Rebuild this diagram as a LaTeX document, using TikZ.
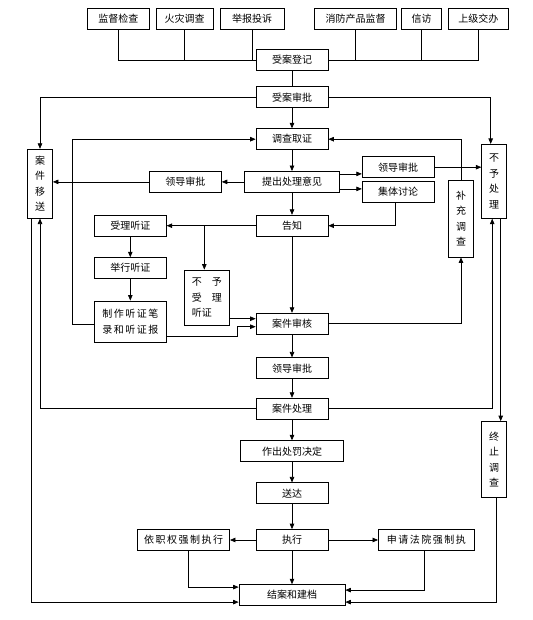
\documentclass[tikz,border=0pt]{standalone}
\usepackage{fontspec}
\newfontfamily\cjk{Noto Sans CJK SC}
\newfontfamily\cjkwide[LetterSpace=15]{Noto Sans CJK SC}
\usetikzlibrary{arrows.meta}
\begin{document}
\begin{tikzpicture}[x=1pt,y=-1pt,line width=0.7pt,>={Triangle[length=5.5pt,width=4.5pt]},
  main node/.style={draw,fill=white,inner sep=0pt,minimum width=72,minimum height=21,font=\cjk\fontsize{10}{15.5}\selectfont},
  tall node/.style={main node,align=center,minimum width=25}]
  \useasboundingbox (0,0) rectangle (532,620);

  \node[main node,minimum width=62] (0) at (118.3,18.8) {监督检查};
  \node[main node,minimum width=57] (1) at (184.7,18.8) {火灾调查};
  \node[main node,minimum width=64] (2) at (252,18.8) {举报投诉};
  \node[main node,minimum width=82] (3) at (355.5,18.8) {消防产品监督};
  \node[main node,minimum width=40] (4) at (421.7,18.8) {信访};
  \node[main node,minimum width=60] (5) at (478.3,18.8) {上级交办};
  \node[main node] (6) at (292,60) {受案登记};
  \node[main node] (7) at (292,97.2) {受案审批};
  \node[main node] (8) at (292,139.2) {调查取证};
  \node[tall node,minimum height=69] (9) at (40,183.7) {案\\件\\移\\送};
  \node[tall node,minimum height=74] (10) at (494.2,181.3) {不\\予\\处\\理};
  \node[main node,minimum width=95] (11) at (292,181.9) {提出处理意见};
  \node[main node] (12) at (185.4,181.9) {领导审批};
  \node[main node] (13) at (398.2,167.2) {领导审批};
  \node[main node] (14) at (398.2,192.1) {集体讨论};
  \node[tall node,minimum height=77] (15) at (461,218.5) {补\\充\\调\\查};
  \node[main node] (16) at (292,225.7) {告知};
  \node[main node] (17) at (130.3,225.7) {受理听证};
  \node[main node,align=left,minimum width=45,minimum height=55.7] (18) at (206.8,297.8) {不　予\\受　理\\听证};
  \node[main node] (19) at (130.3,268.1) {举行听证};
  \node[main node,align=center,minimum height=41.4,font=\cjkwide\fontsize{10}{16}\selectfont] (20) at (130.3,321.6) {制作听证笔\\录和听证报};
  \node[main node] (21) at (292,323.7) {案件审核};
  \node[main node] (22) at (292,368.3) {领导审批};
  \node[main node] (23) at (292,408.7) {案件处理};
  \node[tall node,minimum height=76] (24) at (494.2,459.5) {终\\止\\调\\查};
  \node[main node,minimum width=103] (25) at (292,451.2) {作出处罚决定};
  \node[main node] (26) at (292,493.3) {送达};
  \node[main node] (27) at (292,540) {执行};
  \node[main node,minimum width=92,font=\cjkwide\fontsize{10}{15.5}\selectfont] (28) at (183.6,540) {依职权强制执行};
  \node[main node,minimum width=96,font=\cjkwide\fontsize{10}{15.5}\selectfont] (29) at (426.4,540) {申请法院强制执};
  \node[main node,minimum width=106] (30) at (292,595.1) {结案和建档};

  \draw (0) |- (6);
  \draw (5) |- (6);
  \draw (1) -- (1 |- 6);
  \draw (2) -- (2 |- 6);
  \draw (3) -- (3 |- 6);
  \draw (4) -- (4 |- 6);
  \path (6) edge (7);

  \path[->]
    (7) edge (8)
    (8) edge (11)
    (11) edge (12)
    (11) edge (16)
    (16) edge (17)
    (16) edge (21)
    (17) edge (19)
    (19) edge (20)
    (21) edge (22)
    (22) edge (23)
    (23) edge (25)
    (25) edge (26)
    (26) edge (27)
    (27) edge (28)
    (27) edge (29)
    (27) edge (30);

  \draw[->] (7) -| (9);
  \draw[->] (7) -| ([xshift=-3.5pt]10.north);
  \draw[->] (12) -- (12 -| 9.east);
  \draw[->] ([yshift=8pt]11.east) -- ([yshift=8pt]11.east -| 13.west);
  \draw[->] ([yshift=-7pt]11.east) -- ([yshift=-7pt]11.east -| 14.west);
  \draw[->] (13) -- (13 -| 10.west);
  \draw[->] ([xshift=-3pt]14.south) |- (16);
  \draw[->] ([xshift=-2.5pt]18.north |- 16) -- ([xshift=-2.5pt]18.north);
  \draw[->] ([yshift=5pt]21.west -| 18.east) -- ([yshift=5pt]21.west);
  \draw[->] ([yshift=-15pt]20.east) -- ++(71,0) |- ([yshift=-3pt]21.west);
  \draw[->] ([yshift=-2.5pt]20.west) -- ++(-22,0) |- (8);
  \draw[->] (21) -| (15);
  \draw[->] (15) |- (8);
  \draw[->] (23) -| (9);
  \draw[->] (23) -| ([xshift=-2pt]10.south);
  \draw[->] ([xshift=6.5pt]10.south) -- ([xshift=6.5pt]24.north);
  \draw[->] ([xshift=-9pt]9.south) |- ([yshift=-7pt]30.west);
  \draw[->] ([xshift=2pt]24.south) |- ([yshift=-7pt]30.east);
  \draw[->] ([xshift=5pt]28.south) |- ([yshift=8pt]30.west);
  \draw[->] ([xshift=-2pt]29.south) |- ([yshift=5pt]30.east);
\end{tikzpicture}
\end{document}
